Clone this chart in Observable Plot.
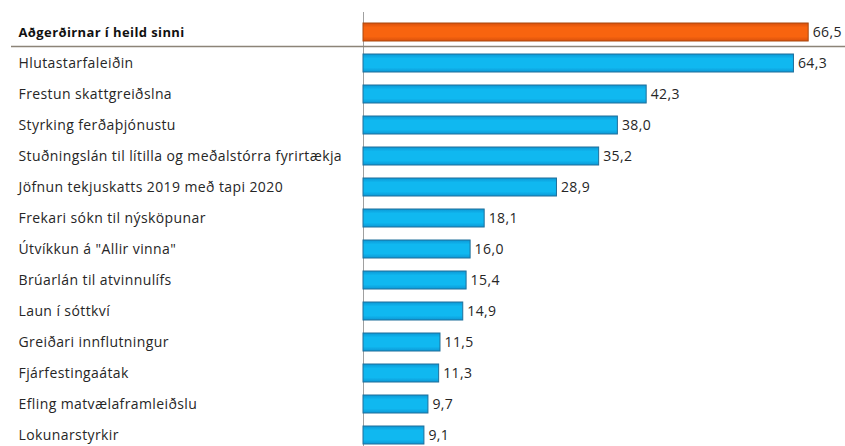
<!DOCTYPE html>
<html>
<head>
<meta charset="utf-8">
<script src="https://cdn.jsdelivr.net/npm/d3@7"></script>
<script src="https://cdn.jsdelivr.net/npm/@observablehq/plot@0.6"></script>
<style>
  html, body { margin: 0; padding: 0; background: #fff; overflow: hidden; }
  #chart svg { display: block; }
</style>
</head>
<body>
<div id="chart"></div>
<script>
const categories = [
  "Aðgerðirnar í heild sinni",
  "Hlutastarfaleiðin",
  "Frestun skattgreiðslna",
  "Styrking ferðaþjónustu",
  "Stuðningslán til lítilla og meðalstórra fyrirtækja",
  "Jöfnun tekjuskatts 2019 með tapi 2020",
  "Frekari sókn til nýsköpunar",
  "Útvíkkun á \"Allir vinna\"",
  "Brúarlán til atvinnulífs",
  "Laun í sóttkví",
  "Greiðari innflutningur",
  "Fjárfestingaátak",
  "Efling matvælaframleiðslu",
  "Lokunarstyrkir"
];
const values = [66.5, 64.3, 42.3, 38.0, 35.2, 28.9, 18.1, 16.0, 15.4, 14.9, 11.5, 11.3, 9.7, 9.1];
const totalCategory = categories[0];

const data = categories.map((name, i) => ({name, value: values[i], total: name === totalCategory}));
const totalData = data.filter(d => d.total);
const itemData = data.filter(d => !d.total);
const fmt = v => v.toFixed(1).replace(".", ",");
const font = "'Open Sans', sans-serif";

const chart = Plot.plot({
  width: 845,
  height: 446,
  marginLeft: 363,
  marginRight: 0,
  marginTop: 12,
  marginBottom: 0,
  style: {fontFamily: font, fontSize: "14px", background: "#fff", overflow: "visible", letterSpacing: "0.4px"},
  x: {domain: [0, 72], axis: null},
  y: {domain: categories, range: [6.5, 459.6], padding: 0.43, axis: null},
  marks: [
    Plot.ruleX([0], {stroke: "#a0a0a0", strokeWidth: 1}),
    Plot.barX(itemData, {y: "name", x: "value", fill: "url(#gradBlue)", stroke: "#1f6f9a", strokeWidth: 1}),
    Plot.barX(totalData, {y: "name", x: "value", fill: "url(#gradOrange)", stroke: "#a9480f", strokeWidth: 1}),
    Plot.ruleY([totalCategory], {stroke: "#8c8478", strokeWidth: 1.3, dy: 14, insetLeft: -352}),
    Plot.text(itemData, {
      y: "name", text: "name", frameAnchor: "left", textAnchor: "start", dx: -345,
      fill: "#262626", fontSize: 14
    }),
    Plot.text(totalData, {
      y: "name", text: "name", frameAnchor: "left", textAnchor: "start", dx: -345,
      fill: "#111", fontSize: 13, fontWeight: "bold"
    }),
    Plot.text(data, {
      y: "name", x: "value", text: d => fmt(d.value), textAnchor: "start", dx: 4,
      fill: "#262626", fontSize: 14
    })
  ]
});

const ns = "http://www.w3.org/2000/svg";
const defs = document.createElementNS(ns, "defs");
function grad(id, edge, mid) {
  const g = document.createElementNS(ns, "linearGradient");
  g.setAttribute("id", id);
  g.setAttribute("x1", "0"); g.setAttribute("y1", "0");
  g.setAttribute("x2", "0"); g.setAttribute("y2", "1");
  [[0, edge], [0.25, mid], [0.75, mid], [1, edge]].forEach(([o, c]) => {
    const s = document.createElementNS(ns, "stop");
    s.setAttribute("offset", o);
    s.setAttribute("stop-color", c);
    g.appendChild(s);
  });
  defs.appendChild(g);
}
grad("gradBlue", "#0c98d6", "#10b8f0");
grad("gradOrange", "#d9500c", "#f8640f");
chart.insertBefore(defs, chart.firstChild);
document.getElementById("chart").appendChild(chart);
</script>
</body>
</html>
